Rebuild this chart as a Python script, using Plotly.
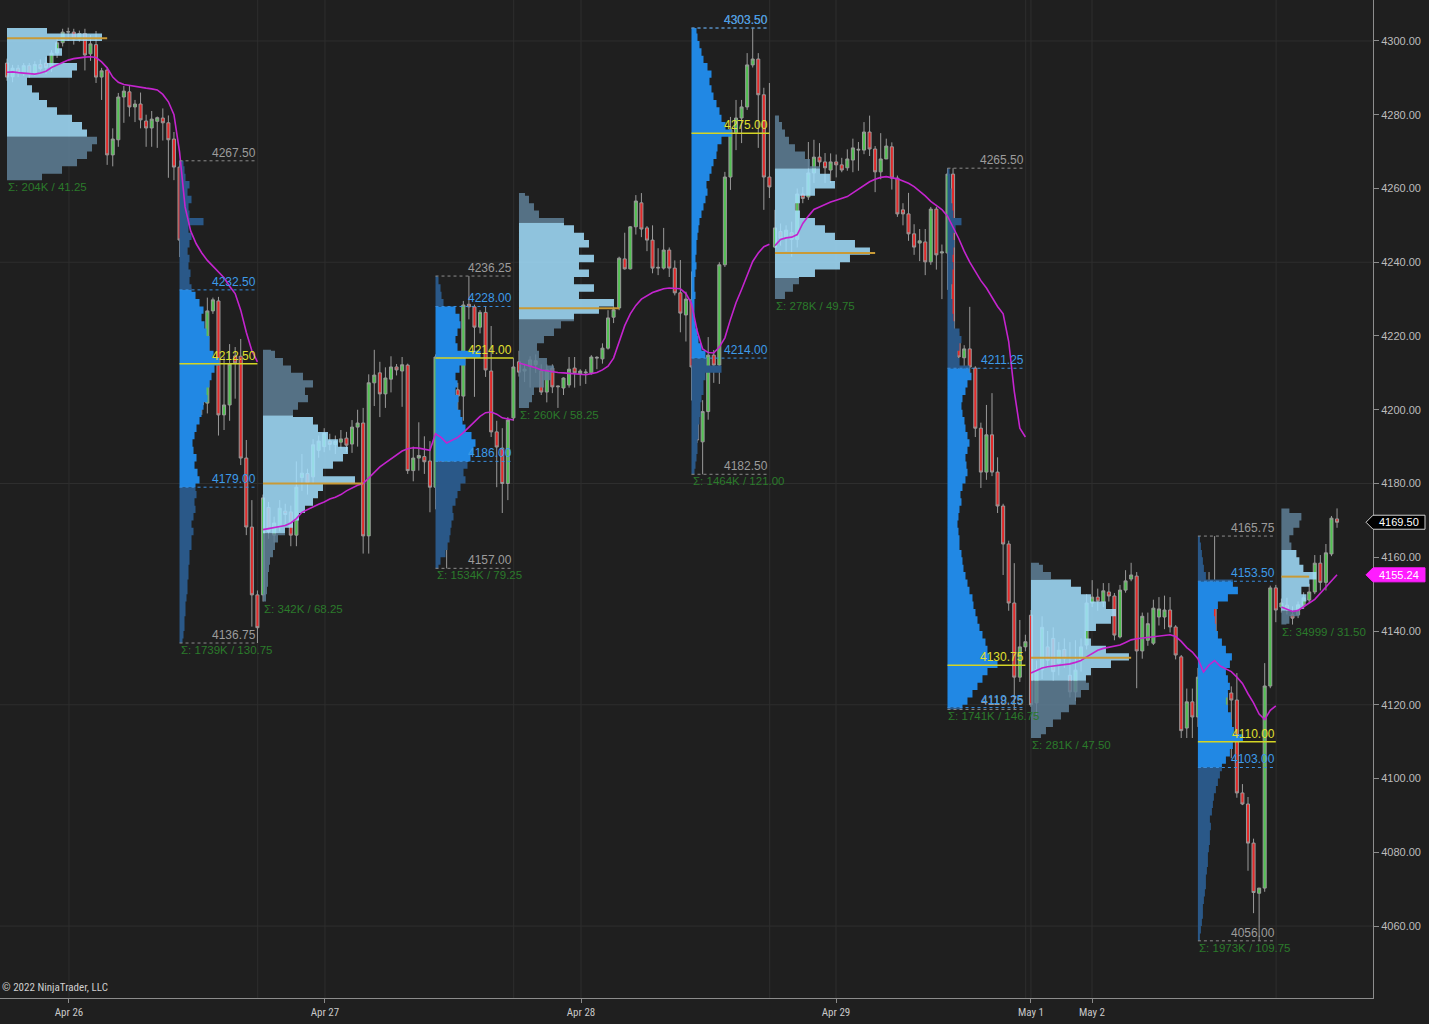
import plotly.graph_objects as go

# ---------------- 30-minute ES bars (index = bar number) ----------------
opens = [
    4294.0, 4290.3, 4292.6, 4291.2, 4293.3, 4291.0, 4293.6, 4294.0, 4292.7, 4296.7,
    4299.5, 4302.4, 4302.4, 4300.5, 4302.0, 4296.5, 4299.0, 4290.2, 4292.1, 4269.1,
    4273.2, 4284.8, 4286.2, 4282.1, 4282.9, 4278.3, 4276.4, 4278.2, 4279.1, 4277.8,
    4273.4, 4265.8, 4245.2, 4231.7, 4217.5, 4215.4, 4201.8, 4226.8, 4229.5, 4198.6,
    4201.3, 4214.6, 4214.5, 4186.9, 4168.2, 4149.8, 4149.8, 4173.5, 4166.0, 4168.5,
    4172.5, 4172.3, 4166.0, 4181.6, 4182.7, 4181.8, 4189.0, 4190.0, 4191.5, 4190.6,
    4191.2, 4192.3, 4190.7, 4195.3, 4196.4, 4165.8, 4207.3, 4210.0, 4204.3, 4208.3,
    4211.6, 4210.5, 4212.1, 4183.5, 4186.9, 4187.3, 4186.1, 4179.0, 4214.6, 4166.0,
    4187.3, 4205.4, 4203.7, 4228.6, 4227.9, 4222.4, 4226.4, 4210.5, 4194.0, 4189.6,
    4180.0, 4197.8, 4213.0, 4210.5, 4211.8, 4212.2, 4210.5, 4204.8, 4211.3, 4206.2,
    4205.9, 4206.7, 4211.3, 4209.7, 4210.0, 4210.0, 4214.0, 4213.8, 4216.7, 4225.1,
    4227.6, 4240.9, 4238.2, 4249.6, 4256.1, 4249.3, 4246.0, 4238.4, 4238.4, 4243.3,
    4238.4, 4231.7, 4225.7, 4229.8, 4211.3, 4191.3, 4199.5, 4214.8, 4212.1, 4239.3,
    4263.1, 4275.1, 4279.1, 4282.1, 4293.5, 4295.1, 4285.4, 4263.1, 4244.1, 4248.3,
    4246.5, 4248.0, 4246.2, 4258.5, 4257.7, 4264.2, 4268.5, 4267.2, 4265.0, 4267.2,
    4266.4, 4265.6, 4267.7, 4270.4, 4270.4, 4275.3, 4270.7, 4264.5, 4268.0, 4271.3,
    4262.8, 4254.2, 4253.1, 4247.7, 4245.2, 4245.5, 4240.1, 4254.4, 4242.5, 4242.5,
    4263.9, 4218.4, 4214.1, 4216.5, 4211.3, 4195.0, 4183.1, 4193.2, 4183.1, 4173.9,
    4163.6, 4147.6, 4127.5, 4135.7, 4144.3, 4120.5, 4129.5, 4135.7, 4138.0, 4131.3,
    4135.0, 4128.0, 4123.5, 4132.0, 4136.2, 4147.6, 4149.2, 4147.9, 4150.6, 4149.5,
    4138.4, 4151.1, 4154.1, 4154.9, 4134.6, 4137.5, 4136.7, 4143.8, 4143.8, 4145.7,
    4141.1, 4133.0, 4113.7, 4120.8, 4116.7, 4127.3, 4128.9, 4150.6, 4130.8, 4112.0,
    4123.2, 4121.3, 4096.1, 4093.1, 4082.5, 4068.9, 4070.3, 4125.1, 4151.7, 4146.5,
    4147.0, 4144.4, 4144.4, 4147.1, 4148.4, 4150.6, 4158.4, 4153.2, 4160.9, 4170.4,
]
highs = [
    4295.2, 4293.5, 4293.5, 4294.0, 4294.0, 4294.5, 4295.0, 4295.6, 4297.5, 4300.8,
    4303.3, 4303.6, 4303.3, 4302.8, 4303.3, 4301.6, 4302.7, 4292.7, 4292.9, 4276.3,
    4285.9, 4287.8, 4287.8, 4284.0, 4286.0, 4280.0, 4281.0, 4279.5, 4281.7, 4279.8,
    4275.3, 4267.5, 4246.1, 4233.0, 4220.0, 4222.0, 4230.4, 4230.4, 4230.6, 4214.4,
    4217.8, 4217.0, 4219.2, 4191.8, 4175.5, 4151.0, 4177.0, 4175.0, 4171.0, 4175.5,
    4174.5, 4174.0, 4186.0, 4188.0, 4184.0, 4192.0, 4193.0, 4195.0, 4193.5, 4193.0,
    4194.5, 4194.0, 4197.2, 4200.0, 4200.5, 4209.6, 4216.25, 4213.0, 4211.5, 4214.5,
    4212.4, 4214.3, 4212.5, 4190.0, 4196.6, 4192.8, 4191.5, 4215.0, 4225.2, 4200.0,
    4206.2, 4207.3, 4229.5, 4236.25, 4228.5, 4227.0, 4228.0, 4222.7, 4197.0, 4195.0,
    4198.0, 4214.0, 4216.0, 4212.5, 4214.5, 4215.0, 4212.3, 4212.3, 4212.3, 4206.5,
    4208.8, 4214.3, 4214.3, 4211.0, 4211.0, 4214.8, 4214.5, 4218.0, 4227.0, 4228.0,
    4241.5, 4248.0, 4249.8, 4258.2, 4258.75, 4249.8, 4250.0, 4243.8, 4249.3, 4244.0,
    4240.5, 4240.6, 4232.0, 4237.5, 4212.0, 4202.6, 4219.7, 4216.2, 4240.0, 4264.5,
    4279.4, 4284.0, 4284.0, 4296.7, 4303.5, 4296.7, 4287.3, 4288.6, 4254.2, 4250.5,
    4250.0, 4251.0, 4260.0, 4260.4, 4272.6, 4273.2, 4272.3, 4269.6, 4269.5, 4269.2,
    4268.3, 4270.6, 4273.5, 4272.6, 4278.0, 4279.75, 4271.5, 4275.0, 4273.5, 4272.5,
    4263.5, 4256.0, 4258.8, 4250.3, 4249.0, 4249.0, 4255.0, 4255.0, 4244.8, 4265.5,
    4265.5, 4221.0, 4217.5, 4227.9, 4211.8, 4196.5, 4201.3, 4204.5, 4187.1, 4174.5,
    4164.5, 4158.4, 4143.0, 4139.0, 4145.7, 4132.0, 4144.0, 4140.0, 4141.0, 4137.0,
    4138.0, 4137.0, 4137.5, 4138.0, 4150.0, 4153.8, 4151.5, 4153.0, 4153.0, 4150.3,
    4152.5, 4156.5, 4158.5, 4156.0, 4145.0, 4145.0, 4148.5, 4149.2, 4149.6, 4149.2,
    4141.6, 4133.5, 4124.4, 4124.4, 4130.0, 4140.3, 4156.0, 4165.75, 4131.5, 4125.4,
    4125.0, 4128.6, 4098.5, 4095.0, 4083.7, 4070.3, 4131.3, 4152.3, 4152.5, 4148.8,
    4149.0, 4146.7, 4148.0, 4150.5, 4152.8, 4160.6, 4160.6, 4163.6, 4171.2, 4173.25,
]
lows = [
    4289.2, 4288.8, 4290.2, 4290.5, 4290.0, 4290.6, 4292.0, 4291.0, 4291.6, 4295.4,
    4298.5, 4300.0, 4299.0, 4299.8, 4292.0, 4294.6, 4288.6, 4284.0, 4266.4, 4266.0,
    4271.3, 4277.8, 4279.5, 4278.0, 4276.3, 4271.3, 4271.3, 4271.0, 4273.0, 4262.9,
    4262.25, 4241.4, 4230.6, 4213.2, 4208.6, 4198.6, 4199.0, 4226.0, 4193.0, 4194.5,
    4197.0, 4203.0, 4185.0, 4166.0, 4141.2, 4136.75, 4148.0, 4165.0, 4164.0, 4167.0,
    4169.0, 4163.0, 4163.0, 4178.0, 4177.0, 4180.0, 4187.0, 4188.5, 4189.0, 4188.0,
    4189.5, 4188.6, 4188.3, 4190.0, 4161.0, 4161.0, 4201.0, 4198.0, 4200.5, 4204.7,
    4209.3, 4200.8, 4182.6, 4180.6, 4183.5, 4182.6, 4172.2, 4173.0, 4165.0, 4157.0,
    4183.0, 4199.0, 4197.0, 4224.5, 4203.5, 4220.7, 4208.9, 4192.6, 4179.0, 4172.0,
    4175.5, 4197.0, 4209.0, 4207.5, 4206.0, 4210.0, 4204.0, 4202.0, 4204.5, 4200.5,
    4204.0, 4206.0, 4206.0, 4206.5, 4207.0, 4209.5, 4211.0, 4212.5, 4216.3, 4223.5,
    4227.0, 4238.0, 4238.0, 4247.5, 4246.8, 4243.0, 4237.0, 4236.5, 4238.0, 4236.0,
    4231.0, 4221.0, 4218.5, 4202.5, 4191.0, 4182.5, 4197.3, 4207.3, 4207.0, 4238.7,
    4259.6, 4270.4, 4272.3, 4281.3, 4292.8, 4271.0, 4254.2, 4257.4, 4243.8, 4244.5,
    4243.0, 4241.5, 4244.0, 4256.0, 4256.9, 4261.5, 4265.8, 4261.5, 4261.5, 4263.0,
    4264.4, 4264.8, 4264.4, 4264.8, 4269.3, 4268.8, 4259.0, 4262.5, 4268.0, 4259.7,
    4252.3, 4250.0, 4245.8, 4242.0, 4240.3, 4236.5, 4239.3, 4238.0, 4230.0, 4232.5,
    4217.5, 4209.0, 4205.4, 4209.0, 4192.6, 4178.8, 4181.0, 4182.0, 4172.0, 4155.2,
    4145.5, 4118.75, 4126.2, 4134.5, 4119.4, 4117.0, 4127.0, 4130.0, 4126.5, 4128.0,
    4130.0, 4122.0, 4121.0, 4129.0, 4135.0, 4146.5, 4145.5, 4146.5, 4148.0, 4137.5,
    4138.0, 4150.4, 4153.5, 4124.5, 4132.5, 4136.0, 4136.2, 4141.5, 4140.5, 4139.6,
    4132.3, 4111.0, 4111.0, 4111.0, 4114.0, 4098.2, 4128.3, 4130.0, 4111.5, 4106.9,
    4105.5, 4094.8, 4092.8, 4075.0, 4063.5, 4056.0, 4069.3, 4124.5, 4142.4, 4145.0,
    4144.5, 4141.75, 4143.5, 4146.0, 4147.6, 4150.0, 4151.0, 4151.0, 4160.3, 4168.0,
]
closes = [
    4290.2, 4292.6, 4291.2, 4293.3, 4291.0, 4293.6, 4292.5, 4292.8, 4296.7, 4299.5,
    4302.4, 4302.5, 4300.5, 4302.0, 4296.2, 4299.2, 4290.2, 4291.9, 4269.1, 4273.4,
    4284.8, 4286.4, 4282.1, 4282.9, 4278.6, 4276.4, 4278.8, 4279.2, 4277.8, 4273.2,
    4265.8, 4246.0, 4231.9, 4217.8, 4215.4, 4201.3, 4226.8, 4229.8, 4198.6, 4201.3,
    4212.4, 4212.7, 4186.9, 4168.2, 4149.8, 4140.9, 4176.1, 4167.0, 4169.3, 4173.3,
    4171.6, 4166.0, 4179.0, 4182.8, 4180.0, 4190.5, 4191.5, 4193.6, 4190.6, 4191.4,
    4192.1, 4190.4, 4195.3, 4196.4, 4165.8, 4207.3, 4209.4, 4204.3, 4208.6, 4211.6,
    4210.8, 4212.2, 4183.5, 4186.9, 4187.6, 4185.9, 4179.0, 4214.3, 4166.0, 4187.3,
    4204.3, 4203.7, 4228.4, 4227.9, 4222.4, 4226.4, 4210.8, 4194.0, 4189.9, 4180.0,
    4197.2, 4211.6, 4210.2, 4211.0, 4213.5, 4213.3, 4204.8, 4210.8, 4206.2, 4206.4,
    4208.6, 4211.0, 4210.0, 4210.5, 4210.2, 4214.3, 4214.2, 4216.7, 4224.9, 4227.1,
    4241.1, 4238.2, 4249.6, 4256.6, 4249.0, 4246.0, 4238.4, 4238.6, 4243.3, 4238.4,
    4231.7, 4226.2, 4230.0, 4211.6, 4191.8, 4199.5, 4214.8, 4212.1, 4239.3, 4263.1,
    4275.9, 4279.1, 4282.1, 4293.5, 4295.1, 4285.4, 4263.1, 4260.4, 4249.3, 4246.5,
    4248.7, 4246.2, 4258.5, 4257.3, 4264.2, 4268.5, 4267.2, 4265.6, 4267.2, 4266.4,
    4265.0, 4268.0, 4271.0, 4270.6, 4275.3, 4270.7, 4264.5, 4268.0, 4271.5, 4262.8,
    4253.1, 4253.1, 4247.7, 4244.1, 4245.8, 4240.1, 4254.4, 4242.0, 4242.8, 4263.9,
    4218.4, 4214.3, 4216.5, 4211.6, 4195.0, 4183.1, 4193.2, 4183.1, 4173.9, 4163.6,
    4147.6, 4127.5, 4135.7, 4137.1, 4120.0, 4129.5, 4141.0, 4132.1, 4129.0, 4134.8,
    4132.5, 4123.5, 4129.4, 4135.7, 4147.6, 4149.2, 4148.1, 4150.9, 4149.5, 4138.9,
    4151.1, 4153.6, 4155.2, 4134.6, 4144.0, 4142.0, 4146.2, 4146.0, 4145.7, 4141.1,
    4133.5, 4113.0, 4120.8, 4116.7, 4127.5, 4128.9, 4150.6, 4130.8, 4112.0, 4123.2,
    4121.3, 4096.1, 4093.1, 4082.5, 4069.1, 4070.3, 4125.1, 4151.7, 4145.7, 4147.6,
    4146.0, 4143.5, 4147.1, 4149.0, 4150.6, 4158.4, 4153.2, 4161.2, 4170.6, 4169.5,
]
vwap = [
    4291.5, 4291.6, 4291.4, 4291.2, 4291.0, 4291.0, 4291.3, 4291.8, 4292.8, 4293.5,
    4294.3, 4294.8, 4295.2, 4295.5, 4295.6, 4295.7, 4295.5, 4294.3, 4292.7, 4290.2,
    4288.8, 4288.2, 4287.9, 4287.7, 4287.4, 4287.2, 4287.0, 4286.7, 4285.5, 4283.5,
    4280.0, 4270.0, 4255.0, 4248.5, 4245.0, 4242.5, 4240.5, 4239.0, 4237.5, 4235.8,
    4233.5, 4231.5, 4227.0, 4221.0, 4216.0, 4213.0,
    4167.5, 4167.8, 4168.0, 4168.2, 4168.6, 4169.3, 4170.5, 4172.2, 4173.0, 4173.8,
    4174.4, 4175.0, 4175.8, 4176.3, 4177.0, 4178.0, 4178.8, 4179.5, 4180.0, 4181.5,
    4183.0, 4184.5, 4185.6, 4186.6, 4187.6, 4188.8, 4189.4, 4189.7, 4189.6, 4189.3,
    4189.0, 4193.5, 4192.5, 4191.0, 4191.8, 4192.5, 4193.8, 4195.3, 4196.8, 4198.2,
    4199.2, 4199.4, 4198.8, 4197.8, 4197.5, 4197.2,
    4212.7, 4212.3, 4212.0, 4211.4, 4210.8, 4210.5, 4210.2, 4210.1, 4210.0, 4209.9,
    4209.7, 4209.5, 4209.5, 4209.8, 4210.1, 4210.8, 4211.8, 4214.0, 4218.5, 4222.8,
    4226.0, 4228.3, 4230.0, 4231.0, 4231.8, 4232.3, 4232.8, 4233.0, 4233.0, 4232.8,
    4231.5, 4228.8, 4221.5, 4216.5, 4215.5, 4215.4, 4217.0, 4219.5, 4224.5, 4229.0,
    4232.6, 4236.5, 4240.2, 4242.5, 4244.2, 4244.9,
    4244.5, 4246.2, 4246.6, 4246.8, 4247.5, 4250.5, 4252.5, 4254.3, 4255.0, 4255.7,
    4256.3, 4256.8, 4257.3, 4257.8, 4258.8, 4259.8, 4260.8, 4261.8, 4262.5, 4263.0,
    4263.2, 4263.0, 4262.6, 4262.0, 4261.4, 4260.5, 4259.3, 4258.0, 4256.5, 4255.5,
    4254.3, 4252.5, 4249.5, 4246.5, 4243.0, 4240.0, 4237.5, 4235.0, 4233.0, 4230.5,
    4228.0, 4226.0, 4218.5, 4205.0, 4195.0, 4192.6,
    4128.6, 4129.3, 4130.0, 4130.3, 4130.5, 4130.6, 4130.8, 4131.1, 4131.5, 4132.0,
    4133.0, 4134.0, 4134.8, 4135.3, 4135.6, 4135.9, 4136.2, 4136.9, 4137.6, 4137.9,
    4138.1, 4138.3, 4138.4, 4138.6, 4138.8, 4139.0, 4138.5, 4137.2, 4135.5, 4134.3,
    4132.5, 4128.9, 4130.8, 4132.0, 4130.5, 4129.8, 4129.0, 4127.5, 4125.8, 4123.0,
    4120.5, 4117.5, 4116.0, 4118.5, 4119.7,
    4146.5, 4146.0, 4145.3, 4145.6, 4146.5, 4147.6, 4148.6, 4150.3, 4151.8, 4153.5,
    4155.24,
]

# ---------------- axis labels ----------------
date_labels = ["Apr 26", "Apr 27", "Apr 28", "Apr 29", "May 1", "May 2"]
date_pos = [11.14, 57.14, 103.15, 148.97, 184.0, 194.97]
ytick_vals = list(range(4060, 4301, 20))

# ---------------- sessions (ETH / RTH) ----------------
sess_kind = ["ETH", "RTH", "ETH", "RTH", "ETH", "RTH", "ETH", "RTH", "ETH", "RTH", "ETH"]
sess_start = [0, 31, 46, 77, 92, 123, 138, 169, 184, 214, 229]
sess_end = [30, 45, 76, 91, 122, 137, 168, 183, 213, 228, 239]
sess_low = [4262.25, 4136.75, 4148.0, 4157.0, 4200.5, 4182.5, 4230.0, 4118.75, 4111.0, 4056.0, 4141.75]
sess_high = [4303.5, 4267.5, 4216.25, 4236.25, 4258.75, 4303.5, 4279.75, 4265.5, 4158.5, 4165.75, 4173.25]
sess_val = [4274.0, 4179.0, 4166.5, 4186.0, 4224.5, 4214.0, 4235.75, 4119.25, 4126.5, 4103.0, 4145.5]
sess_vah = [4303.5, 4232.5, 4198.5, 4228.0, 4250.75, 4303.5, 4265.5, 4211.25, 4154.0, 4153.5, 4162.0]
sess_poc = [4300.75, 4212.5, 4180.0, 4214.0, 4227.5, 4275.0, 4242.5, 4130.75, 4132.75, 4110.0, 4154.75]
sess_volume = ["204K", "1739K", "342K", "1534K", "260K", "1464K", "278K", "1741K", "281K", "1973K", "34999"]

# volume profiles: relative volume per 2-point price bin, starting at prof_bin0
prof_bin0 = [4262, 4136, 4148, 4156, 4200, 4182, 4230, 4118, 4110, 4056, 4140]
vol_eth_apr26 = [35, 55, 70, 80, 85, 90, 80, 75, 65, 50, 40, 32, 25, 20, 65, 70, 40, 55, 50, 95, 40]
vol_rth_apr26 = [3, 4, 5, 5, 6, 6, 7, 8, 8, 9, 9, 10, 10, 12, 12, 14, 12, 14, 16, 15,
                 17, 16, 20, 18, 15, 17, 14, 13, 15, 17, 20, 22, 24, 28, 27, 30, 32, 35, 40, 34,
                 30, 30, 27, 25, 22, 24, 20, 16, 12, 10, 11, 9, 10, 8, 10, 12, 9, 24, 10, 9,
                 12, 8, 10, 6, 5, 4]
vol_eth_apr27 = [3, 4, 5, 5, 6, 7, 10, 12, 15, 22, 30, 36, 42, 50, 55, 60, 92, 60, 70, 80,
                 85, 75, 65, 55, 50, 30, 35, 45, 42, 50, 40, 28, 20, 12, 8]
vol_rth_apr27 = [3, 5, 10, 12, 14, 15, 16, 18, 17, 20, 22, 25, 30, 28, 32, 35, 38, 40, 36, 30,
                 27, 25, 22, 23, 20, 22, 20, 24, 30, 45, 22, 20, 22, 25, 24, 20, 8, 6, 5, 3, 2]
vol_eth_apr28 = [10, 13, 15, 25, 32, 35, 28, 20, 18, 25, 35, 42, 55, 80, 95, 60, 75, 55, 70, 60,
                 75, 60, 70, 65, 55, 45, 20, 15, 10, 6]
vol_rth_apr28 = [3, 4, 5, 6, 6, 7, 7, 8, 9, 9, 10, 12, 12, 14, 30, 15, 14, 10, 7, 6,
                 4, 3, 3, 3, 4, 3, 3, 4, 5, 4, 5, 5, 6, 7, 8, 10, 12, 14, 16, 15,
                 18, 20, 22, 25, 26, 30, 40, 34, 30, 28, 25, 22, 20, 18, 20, 16, 12, 10, 8, 6, 5]
vol_eth_apr29 = [10, 18, 24, 40, 65, 75, 95, 80, 60, 50, 40, 25, 20, 25, 40, 60, 55, 45, 35, 30,
                 20, 14, 10, 7, 4]
vol_rth_apr29 = [15, 20, 25, 30, 35, 40, 50, 42, 40, 38, 35, 32, 30, 28, 26, 25, 22, 20, 18, 16,
                 15, 14, 12, 12, 11, 10, 11, 12, 14, 13, 15, 18, 20, 19, 18, 20, 22, 20, 18, 17,
                 15, 14, 15, 18, 20, 24, 22, 12, 10, 12, 14, 12, 7, 6, 5, 5, 4, 4, 5, 5,
                 6, 5, 6, 7, 6, 8, 14, 6, 5, 4, 4, 3, 3, 2]
vol_eth_may2 = [10, 15, 22, 30, 38, 45, 50, 58, 55, 60, 80, 98, 75, 60, 55, 65, 80, 85, 75, 60,
                50, 40, 20, 12, 8]
vol_rth_may2 = [2, 3, 4, 5, 5, 6, 7, 8, 8, 9, 10, 10, 11, 12, 12, 13, 12, 14, 15, 16,
                18, 20, 22, 24, 28, 32, 35, 45, 36, 34, 33, 30, 28, 30, 32, 30, 28, 32, 34, 28,
                24, 20, 18, 17, 16, 20, 30, 40, 35, 8, 6, 5, 4, 3, 2]
vol_eth_may3 = [5, 8, 18, 22, 25, 20, 28, 35, 22, 18, 15, 10, 8, 12, 18, 20, 8]
prof_vols = [vol_eth_apr26, vol_rth_apr26, vol_eth_apr27, vol_rth_apr27, vol_eth_apr28,
             vol_rth_apr28, vol_eth_apr29, vol_rth_apr29, vol_eth_may2, vol_rth_may2, vol_eth_may3]

# ---------------- styling ----------------
BG = "#1f1f1f"
BAR_PX = 5.565            # pixels per bar on this layout
VOL_SCALE = 1.0 / BAR_PX  # relative volume unit -> bar widths
BIN = 2.0
LABEL_FONT = "Liberation Sans, Arial, sans-serif"
NARROW_FONT = "Liberation Sans Narrow, Roboto Condensed, Arial Narrow, Liberation Sans, sans-serif"
RTH_VA, RTH_OUT = "rgb(33,136,228)", "rgb(42,88,136)"
ETH_VA, ETH_OUT = "rgb(163,225,255)", "rgb(95,128,152)"
GRAY_TXT, BLUE_TXT, YEL_TXT, GRN_TXT = "#9c9c9c", "#3d9be9", "#e0e030", "#2b7a2b"


def profile_poly(left, bin0, vols, lo, hi):
    xs, ys = [left], [lo]
    last = lo
    for k, v in enumerate(vols):
        b = bin0 + k * BIN
        t = b + BIN
        b2, t2 = max(b, lo), min(t, hi)
        if t2 <= b2:
            continue
        w = left + v * VOL_SCALE
        xs += [w, w]
        ys += [b2, t2]
        last = t2
    xs.append(left)
    ys.append(last)
    return xs, ys


def profile_traces(s):
    kind = sess_kind[s]
    va_c, out_c = (RTH_VA, RTH_OUT) if kind == "RTH" else (ETH_VA, ETH_OUT)
    parts = [(sess_low[s], sess_val[s], out_c), (sess_val[s], sess_vah[s], va_c),
             (sess_vah[s], sess_high[s], out_c)]
    traces = []
    for lo, hi, col in parts:
        if hi - lo <= 0:
            continue
        xs, ys = profile_poly(sess_start[s], prof_bin0[s], prof_vols[s], lo, hi)
        traces.append(go.Scatter(x=xs, y=ys, mode="lines", fill="toself", fillcolor=col,
                                 line=dict(width=0, color=col), hoverinfo="skip",
                                 opacity=1.0 if kind == "RTH" else 0.85, showlegend=False))
    return traces


fig = go.Figure()

# RTH profiles beneath candles
for s in range(len(sess_kind)):
    if sess_kind[s] == "RTH":
        for t in profile_traces(s):
            fig.add_trace(t)

idx = list(range(len(opens)))
fig.add_trace(go.Candlestick(
    x=idx, open=opens, high=highs, low=lows, close=closes,
    increasing=dict(line=dict(color="#9a9a9a", width=1), fillcolor="#52c152"),
    decreasing=dict(line=dict(color="#9a9a9a", width=1), fillcolor="#e32a2a"),
    whiskerwidth=0, hoverinfo="skip", showlegend=False))

# ETH profiles drawn over candles (semi transparent)
for s in range(len(sess_kind)):
    if sess_kind[s] == "ETH":
        for t in profile_traces(s):
            fig.add_trace(t)

# VWAP, reset at each ETH session start
vx, vy = [], []
eth_starts = [sess_start[s] for s in range(len(sess_kind)) if sess_kind[s] == "ETH"]
for i, v in enumerate(vwap):
    if i in eth_starts and i > 0:
        vx.append(None)
        vy.append(None)
    vx.append(i)
    vy.append(v)
fig.add_trace(go.Scatter(x=vx, y=vy, mode="lines", line=dict(color="rgb(196,36,206)", width=1.6),
                         hoverinfo="skip", showlegend=False))

shapes = []
annotations = []

# grid lines
for p in range(4060, 4301, 60):
    shapes.append(dict(type="line", xref="paper", yref="y", x0=0, x1=1, y0=p, y1=p,
                       line=dict(color="#2e2e2e", width=1), layer="below"))
grid_x = date_pos + [sess_end[s] + 0.05 for s in range(len(sess_kind)) if sess_kind[s] == "RTH"]
for gx in grid_x:
    shapes.append(dict(type="line", xref="x", yref="paper", x0=gx, x1=gx, y0=0, y1=1,
                       line=dict(color="#2e2e2e", width=1), layer="below"))


def label(x, y, text, color, xanchor="right", yanchor="bottom", size=12):
    annotations.append(dict(x=x, y=y, xref="x", yref="y", text=text, showarrow=False,
                            xanchor=xanchor, yanchor=yanchor, borderpad=0,
                            font=dict(family=LABEL_FONT, size=size, color=color)))


for s in range(len(sess_kind)):
    st, en = sess_start[s], sess_end[s]
    rng = sess_high[s] - sess_low[s]
    if sess_kind[s] == "RTH":
        for lvl, col, dash in [(sess_high[s], "#8c8c8c", "dot"), (sess_low[s], "#8c8c8c", "dot"),
                               (sess_vah[s], "#3a8fe0", "dot"), (sess_val[s], "#3a8fe0", "dot")]:
            shapes.append(dict(type="line", xref="x", yref="y", x0=st, x1=en, y0=lvl, y1=lvl,
                               line=dict(color=col, width=1, dash=dash), layer="above"))
        shapes.append(dict(type="line", xref="x", yref="y", x0=st, x1=en, y0=sess_poc[s], y1=sess_poc[s],
                           line=dict(color="#d4d424", width=1.5), layer="above"))
        label(en, sess_high[s], f"{sess_high[s]:.2f}", GRAY_TXT)
        label(en, sess_low[s], f"{sess_low[s]:.2f}", GRAY_TXT)
        label(en, sess_vah[s], f"{sess_vah[s]:.2f}", BLUE_TXT)
        label(en, sess_val[s], f"{sess_val[s]:.2f}", BLUE_TXT)
        label(en, sess_poc[s], f"{sess_poc[s]:.2f}", YEL_TXT)
    else:
        poc_end = min(st + 18, en - 5)
        shapes.append(dict(type="line", xref="x", yref="y", x0=st, x1=poc_end, y0=sess_poc[s], y1=sess_poc[s],
                           line=dict(color="#c99a36", width=2), layer="above"))
    label(st, sess_low[s], f"Σ: {sess_volume[s]} / {rng:.2f}", GRN_TXT, xanchor="left", yanchor="top",
          size=11.5)

# price tags on the right axis
PLOT_W = 1373.0


def px(p):
    return p / PLOT_W


def price_tag(value, bg, border, text_color):
    h = 7 / 3.6875
    path = (f"M {px(1366)},{value} L {px(1373)},{value + h} L {px(1425)},{value + h} "
            f"L {px(1425)},{value - h} L {px(1373)},{value - h} Z")
    shapes.append(dict(type="path", xref="paper", yref="y", path=path, fillcolor=bg,
                       line=dict(color=border, width=1), layer="above"))
    annotations.append(dict(x=px(1399), y=value, xref="paper", yref="y", text=f"{value:.2f}",
                            showarrow=False, xanchor="center", yanchor="middle",
                            font=dict(family=LABEL_FONT, size=11, color=text_color)))


price_tag(closes[-1], "#000000", "#d0d0d0", "#ffffff")
price_tag(vwap[-1], "#ff1cff", "#ff1cff", "#ffffff")

annotations.append(dict(x=0, y=0.011, xref="paper", yref="paper", text="© 2022 NinjaTrader, LLC",
                        showarrow=False, xanchor="left", yanchor="middle",
                        font=dict(family=NARROW_FONT, size=11, color="#cfcfcf")))

fig.update_layout(
    width=1429, height=1024,
    margin=dict(l=0, r=56, t=0, b=26, pad=0),
    paper_bgcolor=BG, plot_bgcolor=BG,
    showlegend=False, boxgap=0.22,
    shapes=shapes, annotations=annotations,
    xaxis=dict(range=[-7 / BAR_PX, (PLOT_W - 7) / BAR_PX], showgrid=False, zeroline=False,
               tickvals=date_pos, ticktext=date_labels, ticks="outside", ticklen=4,
               tickcolor="#8c8c8c", showline=True, linecolor="#8c8c8c", linewidth=1,
               tickfont=dict(family=NARROW_FONT, size=11, color="#c8c8c8"),
               rangeslider=dict(visible=False), fixedrange=True, automargin=False),
    yaxis=dict(side="right", range=[4040.5, 4311.1], showgrid=False, zeroline=False,
               tickvals=ytick_vals, tickformat=".2f", ticks="outside", ticklen=5,
               tickcolor="#8c8c8c", showline=True, linecolor="#8c8c8c", linewidth=1,
               tickfont=dict(family=LABEL_FONT, size=11, color="#bdbdbd"),
               fixedrange=True, automargin=False),
)

fig.write_html("out.html", config={"displayModeBar": False},
               post_script="document.body.style.margin='0px';document.body.style.background='#1f1f1f';")
